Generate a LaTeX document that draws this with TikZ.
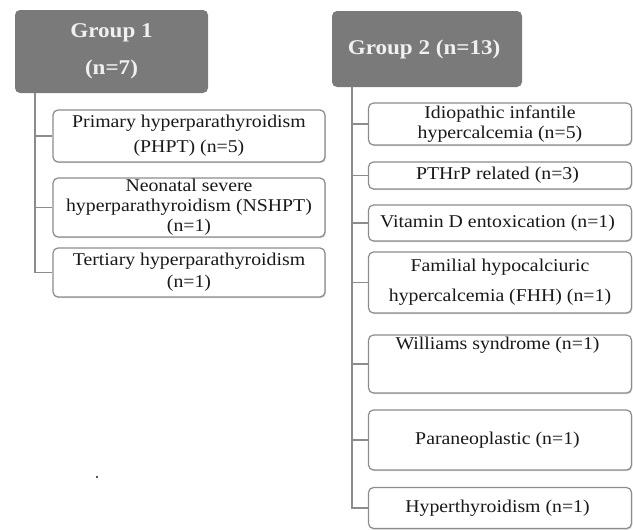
\documentclass[tikz,border=0pt]{standalone}
\usepackage{fontspec}
\setmainfont{Liberation Serif}[FakeStretch=1.1]
\usetikzlibrary{positioning,shadows}
\definecolor{groupgray}{RGB}{122,122,122}
\definecolor{linegray}{RGB}{140,140,140}
\definecolor{textgray}{RGB}{25,25,25}
\tikzset{
  groupbox/.style={rectangle, rounded corners=5pt, fill=groupgray, text=white!94!black,
    font=\fontsize{21}{24}\selectfont\bfseries, align=center, inner sep=0pt},
  leafbox/.style={rectangle, rounded corners=5pt, draw=linegray, line width=1.2pt, fill=white,
    text=textgray, font=\fontsize{18}{20}\selectfont, align=center, inner sep=0pt,
    drop shadow={shadow xshift=0.8pt, shadow yshift=-1.2pt, opacity=0.35}},
  leftleaf/.style={leafbox, minimum width=272pt},
  rightleaf/.style={leafbox, minimum width=263pt},
  stem/.style={draw=linegray, line width=1.5pt}
}
\begin{document}
\begin{tikzpicture}[x=1pt, y=-1pt]
      \useasboundingbox (0,0) rectangle (633,530);
      \node (G1) [groupbox, minimum width=193pt, minimum height=83pt] at (111.5,51.5) {
         Group  1\\[13pt](n=7)
      };
      \node (G2) [groupbox, minimum width=190pt, minimum height=76pt] at (427,49) {
         Group  2 (n=13)
      };
      \node (PHPT) [leftleaf, minimum height=52pt] at (189,136) {
         Primary hyperparathyroidism\\[5pt](PHPT) (n=5)
      };
      \node (NSHPT) [leftleaf, minimum height=59pt, node distance=71.5pt, below of=PHPT] {
         Neonatal severe\\hyperparathyroidism (NSHPT)\\(n=1)
      };
      \node (THPT) [leftleaf, minimum height=49pt, node distance=65pt, below of=NSHPT] {
         Tertiary hyperparathyroidism\\[2pt](n=1)
      };
      \node (IIH) [rightleaf, minimum height=42pt] at (500,124) {
         Idiopathic infantile\\hypercalcemia (n=5)
      };
      \node (PTHrP) [rightleaf, minimum height=27pt, node distance=51.5pt, below of=IIH] {
         PTHrP related (n=3)
      };
      \node (VitD) [rightleaf, minimum height=36pt, node distance=47.5pt, below of=PTHrP] {
         Vitamin D entoxication (n=1)
      };
      \node (FHH) [rightleaf, minimum height=61pt, node distance=59.5pt, below of=VitD] {
         Familial hypocalciuric\\[10pt]hypercalcemia (FHH) (n=1)
      };
      \node (WS) [rightleaf, minimum height=58pt, text height=8pt, text depth=38pt,
                  node distance=81.5pt, below of=FHH] {
         Williams syndrome (n=1)
      };
      \node (PN) [rightleaf, minimum height=60pt, node distance=76pt, below of=WS] {
         Paraneoplastic (n=1)
      };
      \node (HT) [rightleaf, minimum height=41pt, node distance=68pt, below of=PN] {
         Hyperthyroidism (n=1)
      };
      \coordinate (T1) at ([xshift=20pt]G1.south west);
      \coordinate (T2) at ([xshift=20pt]G2.south west);
      \draw[stem] (T1) |- (PHPT.west);
      \draw[stem] (T1) |- (NSHPT.west);
      \draw[stem] (T1) |- (THPT.west);
      \draw[stem] (T2) |- (IIH.west);
      \draw[stem] (T2) |- (PTHrP.west);
      \draw[stem] (T2) |- (VitD.west);
      \draw[stem] (T2) |- (FHH.west);
      \draw[stem] (T2) |- (WS.west);
      \draw[stem] (T2) |- (PN.west);
      \draw[stem] (T2) |- (HT.west);
      \fill[textgray] (97,477) circle (1.1pt);
\end{tikzpicture}
\end{document}
